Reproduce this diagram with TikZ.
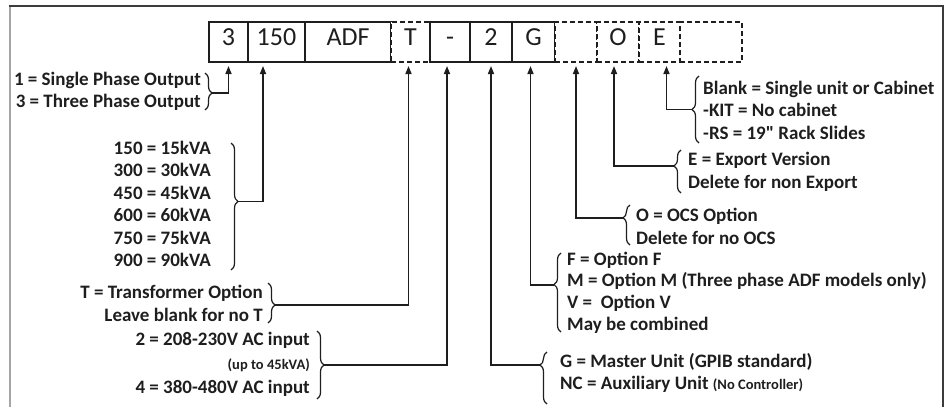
\documentclass[tikz,border=0pt]{standalone}
\usepackage{fontspec}
\setmainfont{Carlito}
\usetikzlibrary{arrows.meta, positioning, decorations.pathreplacing}
\definecolor{ink}{RGB}{30,30,30}
\definecolor{frameGray}{RGB}{165,165,165}
\definecolor{frameDark}{RGB}{60,60,60}
\tikzset{
  cell/.style={
    draw=ink,
    line width=1.5pt,
    minimum height=40pt,
    inner sep=0pt,
    outer sep=0pt,
    text height=0.66em,
    text depth=0.06em,
    font=\fontsize{26}{26}\selectfont,
    text=ink
  },
  optcell/.style={cell, dash pattern=on 5pt off 3pt, fill=white},
  legend/.style={font=\fontsize{19}{22.5}\selectfont\bfseries, text=ink, inner sep=0pt},
  legendL/.style={legend, align=right, anchor=east},
  legendR/.style={legend, align=left, anchor=west},
  curly/.style={decorate, decoration={brace, amplitude=7pt, aspect=#1}, draw=ink, line width=1.2pt},
  pointer/.style={-{Triangle[length=8pt,width=6pt]}, draw=ink, line width=1.5pt, shorten >=4pt}
}
\newcommand{\smallnote}[1]{{\fontsize{14.5}{14}\selectfont #1}}

\begin{document}
\begin{tikzpicture}[x=1pt, y=-1pt]
  \useasboundingbox (0,0) rectangle (948,407);
  \draw[frameGray, line width=2pt] (10,407) -- (10,6);
  \draw[frameDark, line width=2pt] (9,6) -- (943,6) -- (943,407);

  \node[cell, minimum width=39pt, anchor=north west] (n3) at (209,22) {3};
  \node[cell, minimum width=57pt, right=0pt of n3] (n150) {150};
  \node[cell, minimum width=86pt, right=0pt of n150] (nADF) {ADF};
  \node[optcell, minimum width=39pt, right=0pt of nADF] (nT) {T};
  \node[cell, minimum width=40pt, right=0pt of nT] (nDash) {-};
  \node[cell, minimum width=42pt, right=0pt of nDash] (n2) {2};
  \node[cell, minimum width=43pt, right=0pt of n2] (nG) {G};
  \node[optcell, minimum width=42pt, right=0pt of nG] (nBlank) {};
  \node[optcell, minimum width=42pt, right=0pt of nBlank] (nO) {O};
  \node[optcell, minimum width=41pt, right=0pt of nO] (nE) {E};
  \node[optcell, minimum width=62pt, right=0pt of nE] (nMount) {};

  \node[legendL] (phase) at (201,91.5) {1 = Single Phase Output\\3 = Three Phase Output};
  \node[legendL] (rating) at (211,204) {150 = 15kVA\\300 = 30kVA\\450 = 45kVA\\600 = 60kVA\\750 = 75kVA\\900 = 90kVA};
  \node[legendL] (trafo) at (263,303.5) {T = Transformer Option\\Leave blank for no T};
  \node[legendL, font=\fontsize{19}{24}\selectfont\bfseries] (volt) at (310,364) {2 = 208-230V AC input\\\smallnote{(up to 45kVA)}\\4 = 380-480V AC input};

  \node[legendR] (mount) at (703,110) {Blank = Single unit or Cabinet\\-KIT = No cabinet\\-RS = 19\textquotedbl{} Rack Slides};
  \node[legendR] (export) at (688,172) {E = Export Version\\Delete for non Export};
  \node[legendR] (ocs) at (636,226.5) {O = OCS Option\\Delete for no OCS};
  \node[legendR, font=\fontsize{19}{21.7}\selectfont\bfseries] (opts) at (567,292.5) {F = Option F\\M = Option M (Three phase ADF models only)\\V = \ Option V\\May be combined};
  \node[legendR] (unit) at (560,373) {G = Master Unit (GPIB standard)\\NC = Auxiliary Unit \smallnote{(No Controller)}};

  \draw[curly=.54] (205,73) -- (205,110);
  \draw[curly=.46] (231,143) -- (231,270);
  \draw[curly=.55] (268,283) -- (268,323);
  \draw[curly=.5] (317,331) -- (317,399);
  \draw[curly=.75] (547,404) -- (547,352);
  \draw[curly=.6] (561,332) -- (561,253);
  \draw[curly=.68] (630,245) -- (630,205);
  \draw[curly=.63] (681,193) -- (681,150);
  \draw[curly=.5] (699,143) -- (699,76);

  \coordinate (tPhase) at (212,93);
  \coordinate (tRating) at (238,201.5);
  \coordinate (tTrafo) at (275,305);
  \coordinate (tVolt) at (324,365);
  \coordinate (tUnit) at (540,365);
  \coordinate (tOpts) at (554,285);
  \coordinate (tOcs) at (623,218);
  \coordinate (tExport) at (674,166);
  \coordinate (tMount) at (692,109.5);

  \draw[pointer] (tPhase) -| (n3.south);
  \draw[pointer] (tRating) -| ([xshift=-13.5pt]n150.south);
  \draw[pointer] (tTrafo) -| ([xshift=-2pt]nT.south);
  \draw[pointer] (tVolt) -| ([xshift=-3pt]nDash.south);
  \draw[pointer] (tUnit) -| (n2.south);
  \draw[pointer] (tOpts) -| ([xshift=-3pt]nG.south);
  \draw[pointer] (tOcs) -| (nBlank.south);
  \draw[pointer] (tExport) -| ([xshift=-4pt]nO.south);
  \draw[pointer] (tMount) -| ([xshift=7pt]nE.south);
\end{tikzpicture}
\end{document}
